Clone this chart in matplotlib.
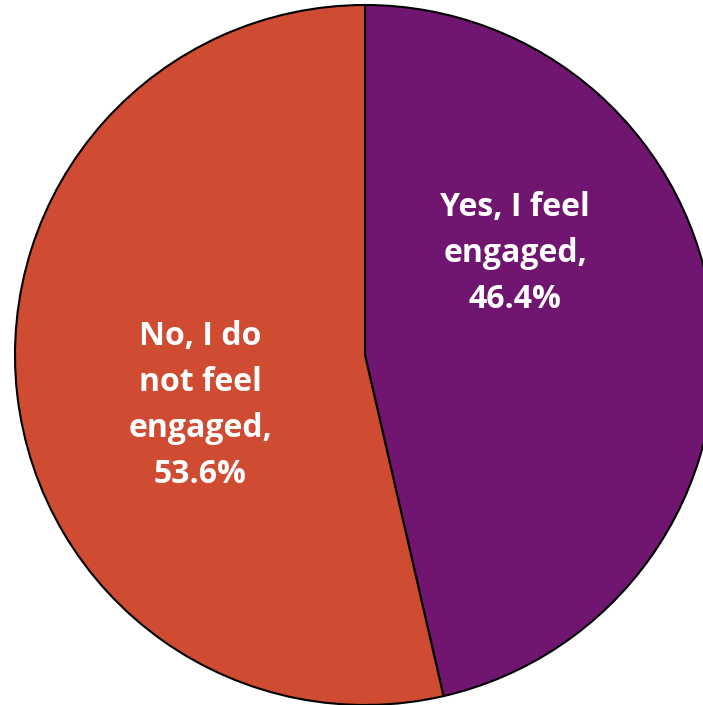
import matplotlib.pyplot as plt

etiquetas = ['Yes, I feel\nengaged,\n46.4%', 'No, I do\nnot feel\nengaged,\n53.6%']
valores = [46.4, 53.6]
colores = ['#701670', '#CF4B32']

# Posiciones de las etiquetas (coordenadas del pie, radio 1)
pos_etiquetas = [(0.429, 0.289), (-0.471, -0.143)]

fig = plt.figure(figsize=(7.03, 7.05), dpi=100)
ax = fig.add_axes([0, 0, 1, 1])
ax.pie(valores, colors=colores, startangle=90, counterclock=False, radius=1,
       wedgeprops={'edgecolor': 'black', 'linewidth': 1.5})

for texto, (x, y) in zip(etiquetas, pos_etiquetas):
    ax.text(x, y, texto, ha='center', va='center', color='white',
            fontsize=23, fontweight='bold', family=['Open Sans', 'DejaVu Sans'],
            linespacing=1.52)

ax.set_xlim(-365 / 350, 338 / 350)
ax.set_ylim(-350 / 350, 355 / 350)
ax.set_aspect('auto')
ax.axis('off')

fig.savefig('out.png', dpi=100)
